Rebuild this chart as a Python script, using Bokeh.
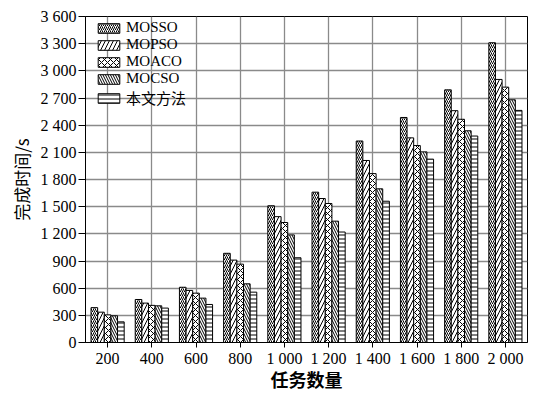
from bokeh.plotting import figure
from bokeh.models import ColumnDataSource, FactorRange, FixedTicker
from bokeh.transform import dodge
from bokeh.embed import file_html
from bokeh.resources import INLINE

categories = ["200", "400", "600", "800", "1 000", "1 200", "1 400", "1 600", "1 800", "2 000"]
series_names = ["MOSSO", "MOPSO", "MOACO", "MOCSO", "本文方法"]
mosso = [385, 475, 610, 985, 1510, 1660, 2225, 2485, 2790, 3310]
mopso = [335, 435, 575, 910, 1390, 1590, 2010, 2260, 2560, 2905]
moaco = [305, 410, 545, 865, 1325, 1535, 1865, 2175, 2465, 2820]
mocso = [295, 405, 490, 648, 1188, 1340, 1697, 2105, 2338, 2680]
ours = [228, 380, 420, 556, 936, 1220, 1560, 2025, 2280, 2563]
y_ticks = [0, 300, 600, 900, 1200, 1500, 1800, 2100, 2400, 2700, 3000, 3300, 3600]
y_tick_labels = ["0", "300", "600", "900", "1 200", "1 500", "1 800", "2 100",
                 "2 400", "2 700", "3 000", "3 300", "3 600"]

source = ColumnDataSource(dict(cat=categories, s0=mosso, s1=mopso, s2=moaco, s3=mocso, s4=ours))

SERIF = "Liberation Serif, Noto Sans CJK SC"
CJK = "Noto Sans CJK SC"

p = figure(x_range=FactorRange(*categories, range_padding=0), y_range=(0, 3600),
           width=537, height=394, output_backend="svg", toolbar_location=None,
           min_border_left=85, min_border_right=10, min_border_top=16, min_border_bottom=51,
           background_fill_color="white", border_fill_color="white")

styles = [
    dict(hatch_pattern="right_diagonal_line", hatch_scale=4),
    dict(hatch_pattern="right_diagonal_line", hatch_scale=8),
    dict(hatch_pattern="diagonal_cross", hatch_scale=6),
    dict(hatch_pattern="left_diagonal_line", hatch_scale=5),
    dict(hatch_pattern="horizontal_line", hatch_scale=4),
]
offsets = [-0.3, -0.15, 0.0, 0.15, 0.3]
for i, name in enumerate(series_names):
    p.vbar(x=dodge("cat", offsets[i], range=p.x_range), top="s%d" % i, width=0.15,
           source=source, fill_color="white", line_color="black", line_width=1,
           hatch_color="black", hatch_weight=1, legend_label=name, **styles[i])

p.outline_line_color = "black"
p.outline_line_width = 1
p.xgrid.grid_line_color = "#8a8a8a"
p.ygrid.grid_line_color = "#8a8a8a"
p.xgrid.grid_line_width = 1.3
p.ygrid.grid_line_width = 1.3
p.ygrid.ticker = FixedTicker(ticks=y_ticks)

p.yaxis.ticker = FixedTicker(ticks=y_ticks)
p.yaxis.major_label_overrides = {t: l for t, l in zip(y_ticks, y_tick_labels)}
for ax in (p.xaxis[0], p.yaxis[0]):
    ax.major_label_text_font = SERIF
    ax.major_label_text_font_size = "16px"
    ax.major_label_text_color = "black"
    ax.axis_line_color = "black"
    ax.major_tick_line_color = "black"
    ax.major_tick_in = 0
    ax.major_tick_out = 5
    ax.minor_tick_line_color = None
    ax.axis_label_text_font = CJK
    ax.axis_label_text_color = "black"
    ax.axis_label_text_font_style = "normal"
p.xaxis.major_label_standoff = 2
p.xaxis.axis_label = "任务数量"
p.xaxis.axis_label_text_font_size = "18px"
p.xaxis.axis_label_text_font_style = "bold"
p.xaxis.axis_label_standoff = -4
p.yaxis.major_tick_out = 7
p.yaxis.major_label_standoff = 2
p.yaxis.axis_label = "完成时间/s"
p.yaxis.axis_label_text_font_size = "17px"
p.yaxis.axis_label_standoff = 4

lg = p.legend[0]
lg.location = (10, 234)
lg.margin = 0
lg.padding = 2
lg.spacing = -3
lg.glyph_width = 27
lg.glyph_height = 12
lg.label_height = 12
lg.label_standoff = 4
lg.label_text_font = SERIF
lg.label_text_font_size = "15px"
lg.label_text_color = "black"
lg.background_fill_alpha = 0
lg.border_line_color = None

open("out.html", "w").write(file_html(p, INLINE))
